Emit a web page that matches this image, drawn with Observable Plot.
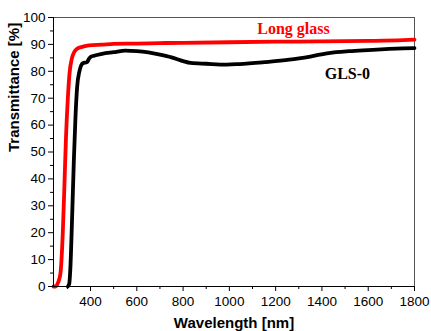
<!DOCTYPE html>
<html><head><meta charset="utf-8">
<script src="https://cdn.jsdelivr.net/npm/d3@7"></script>
<script src="https://cdn.jsdelivr.net/npm/@observablehq/plot@0.6"></script>
<style>body{margin:0;background:#fff}</style>
</head><body><div id="chart"></div>
<script>
const longGlassWl = [240, 249, 260, 270, 280, 287, 294, 302, 309, 320, 330, 342, 360, 393, 450, 500, 600, 700, 800, 1000, 1200, 1400, 1600, 1750, 1800];
const longGlassT  = [0, 0, 1.5, 4.8, 19.6, 37, 55.5, 70, 79, 85, 87.2, 88.4, 89.0, 89.6, 89.9, 90.2, 90.3, 90.5, 90.6, 90.8, 91.0, 91.1, 91.3, 91.6, 91.8];
const gls0Wl = [302, 308, 313, 320, 328, 335, 342, 352, 367, 385, 393, 400, 415, 450, 500, 551, 600, 650, 700, 750, 800, 832, 900, 989, 1043, 1150, 1259, 1350, 1430, 1518, 1600, 1691, 1750, 1800];
const gls0T  = [0, 1, 7, 24.5, 47, 63, 74, 80, 83, 83.4, 84.6, 85.3, 85.8, 86.5, 87.1, 87.7, 87.5, 87.0, 86.2, 85.2, 83.8, 83.1, 82.8, 82.5, 82.7, 83.4, 84.3, 85.5, 86.8, 87.5, 87.9, 88.3, 88.5, 88.6];
const xMajor = [400, 600, 800, 1000, 1200, 1400, 1600, 1800];
const xMinor = [300, 500, 700, 900, 1100, 1300, 1500, 1700];
const yMajor = [0, 10, 20, 30, 40, 50, 60, 70, 80, 90, 100];
const yMinor = [5, 15, 25, 35, 45, 55, 65, 75, 85, 95];
const seriesLabels = ["Long glass", "GLS-0"];
const seriesColors = ["#ff0000", "#000000"];
const labelX = [1277, 1510];
const labelY = [93.7, 77.3];

const red = longGlassWl.map((w, i) => ({x: w, y: longGlassT[i]}));
const blk = gls0Wl.map((w, i) => ({x: w, y: gls0T[i]}));
const labels = seriesLabels.map((t, i) => ({t, x: labelX[i], y: labelY[i], c: seriesColors[i]}));

const chart = Plot.plot({
  width: 431, height: 331,
  marginLeft: 53, marginRight: 17, marginTop: 17, marginBottom: 45,
  style: {fontFamily: "Liberation Sans, Arial, sans-serif", color: "#000", background: "#fff"},
  x: {domain: [240, 1800]},
  y: {domain: [0, 100]},
  marks: [
    Plot.frame({stroke: "#555"}),
    Plot.line(blk, {x: "x", y: "y", stroke: seriesColors[1], strokeWidth: 3.8, curve: "monotone-x"}),
    Plot.line(red, {x: "x", y: "y", stroke: seriesColors[0], strokeWidth: 3.8, curve: "monotone-x"}),
    Plot.axisX({ticks: xMajor, tickSize: 5, tickPadding: 5, fontSize: 13.5, label: null, tickFormat: d => String(d)}),
    Plot.axisX({ticks: xMinor, tickSize: 3, text: null, label: null}),
    Plot.axisY({ticks: yMajor, tickSize: 5, tickPadding: 3, fontSize: 13.5, label: null}),
    Plot.axisY({ticks: yMinor, tickSize: 3, text: null, label: null}),
    Plot.ruleY([0], {stroke: "#000"}),
    Plot.ruleX([240], {stroke: "#000"}),
    Plot.text(labels, {x: "x", y: "y", text: "t", fill: "c", fontFamily: "Liberation Serif, Times New Roman, serif", fontWeight: "bold", fontSize: 16, lineAnchor: "bottom", textAnchor: "middle"}),
    Plot.text(["Wavelength [nm]"], {frameAnchor: "bottom", dy: 41, text: d => d, fontWeight: "bold", fontSize: 15, lineAnchor: "bottom"}),
    Plot.text(["Transmittance [%]"], {frameAnchor: "left", dx: -39, text: d => d, fontWeight: "bold", fontSize: 15, rotate: -90})
  ]
});
document.getElementById("chart").appendChild(chart);
</script>
</body></html>
